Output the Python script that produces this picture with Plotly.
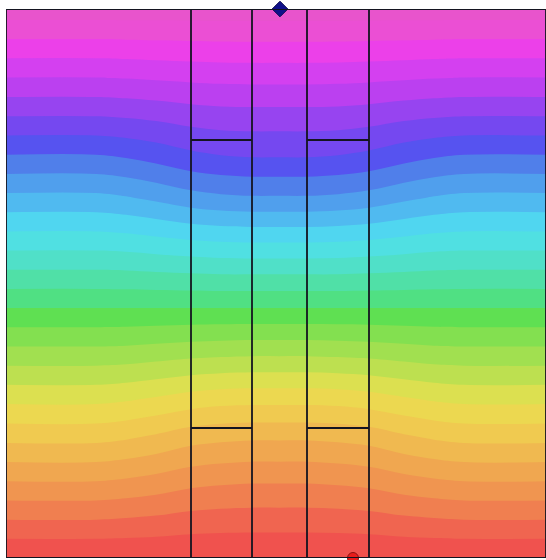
import plotly.graph_objects as go

# Grid node positions (model units, origin bottom-left)
x_nodes = [0, 90, 120, 150, 185, 215, 246, 273, 301, 332, 363, 398, 428, 458, 540]
y_nodes = [0, 40, 80, 120, 160, 200, 250, 280, 320, 360, 400, 440, 480, 520, 549]

z_rows = [
    [0.0] * 15,
    [7.3, 7.3, 7.0, 6.6, 5.9, 5.6, 5.5, 5.5, 5.5, 5.6, 5.9, 6.6, 7.0, 7.3, 7.3],
    [14.6, 14.6, 14.1, 13.3, 12.1, 11.6, 11.3, 11.3, 11.3, 11.6, 12.1, 13.3, 14.1, 14.6, 14.6],
    [21.9, 21.9, 21.3, 20.3, 18.8, 18.2, 17.9, 17.9, 17.9, 18.2, 18.8, 20.3, 21.3, 21.9, 21.9],
    [29.1, 29.1, 28.6, 27.8, 26.7, 26.1, 25.9, 25.9, 25.9, 26.1, 26.7, 27.8, 28.6, 29.1, 29.1],
    [36.4, 36.4, 36.2, 35.7, 35.1, 34.8, 34.6, 34.6, 34.6, 34.8, 35.1, 35.7, 36.2, 36.4, 36.4],
    [45.5] * 15,
    [51.0, 51.0, 51.1, 51.3, 51.5, 51.7, 51.7, 51.7, 51.7, 51.7, 51.5, 51.3, 51.1, 51.0, 51.0],
    [58.3, 58.3, 58.6, 59.2, 59.9, 60.3, 60.5, 60.5, 60.5, 60.3, 59.9, 59.2, 58.6, 58.3, 58.3],
    [65.6, 65.6, 66.2, 67.2, 68.6, 69.3, 69.6, 69.6, 69.6, 69.3, 68.6, 67.2, 66.2, 65.6, 65.6],
    [72.9, 72.9, 73.5, 74.5, 75.9, 76.6, 76.9, 76.9, 76.9, 76.6, 75.9, 74.5, 73.5, 72.9, 72.9],
    [80.2, 80.2, 80.5, 81.0, 81.8, 82.2, 82.3, 82.3, 82.3, 82.2, 81.8, 81.0, 80.5, 80.2, 80.2],
    [87.4, 87.4, 87.6, 87.9, 88.2, 88.4, 88.5, 88.5, 88.5, 88.4, 88.2, 87.9, 87.6, 87.4, 87.4],
    [94.7, 94.7, 94.8, 94.9, 95.0, 95.1, 95.1, 95.1, 95.1, 95.1, 95.0, 94.9, 94.8, 94.7, 94.7],
    [100.0] * 15,
]

# Colour scale stops
scale_pos = [0.0, 0.04, 0.07, 0.106, 0.142, 0.178, 0.215, 0.251, 0.293, 0.33, 0.36, 0.397,
             0.43, 0.457, 0.479, 0.515, 0.566, 0.612, 0.658, 0.703, 0.74, 0.77, 0.798, 0.82,
             0.85, 0.88, 0.916, 0.953, 0.985, 1.0]
scale_col = ["#f04c4c", "#f05a50", "#f07250", "#f08a50", "#f09e50", "#f0b050", "#f0c250",
             "#f0d250", "#e6e050", "#c4e050", "#ace050", "#90e050", "#70e050", "#54e054",
             "#50e080", "#50e0a4", "#50e0d4", "#50e0f0", "#50bcf0", "#509aec", "#5078ea",
             "#5650f0", "#6e48f0", "#8848f0", "#a042f0", "#c040f0", "#d840f0", "#f040e8",
             "#ea50d2", "#e854cc"]

# Geometry outlines
column_edges = [185, 246, 301, 363]
side_columns = [(185, 246), (301, 363)]
divider_levels = [130, 418]
domain_w, domain_h = 540, 549

# Point markers
source_pt = (274, 549)
sink_pt = (347, 0)

fig = go.Figure()
fig.add_trace(go.Contour(
    x=x_nodes, y=y_nodes, z=z_rows,
    colorscale=[[p, c] for p, c in zip(scale_pos, scale_col)],
    zmin=0, zmax=100,
    contours=dict(start=0, end=100, size=3.5, coloring="fill", showlines=False),
    line=dict(width=0),
    showscale=False,
    hoverinfo="skip",
))

line_style = dict(color="#141420", width=1.8)
shapes = [dict(type="rect", xref="x", yref="y", x0=0, x1=domain_w, y0=0, y1=domain_h,
               line=line_style)]
for xe in column_edges:
    shapes.append(dict(type="line", xref="x", yref="y", x0=xe, x1=xe, y0=0, y1=domain_h,
                       line=line_style))
for (a, b) in side_columns:
    for yl in divider_levels:
        shapes.append(dict(type="line", xref="x", yref="y", x0=a, x1=b, y0=yl, y1=yl,
                           line=line_style))

fig.add_trace(go.Scatter(x=[source_pt[0]], y=[source_pt[1]], mode="markers",
                         marker=dict(symbol="diamond", size=12, color="#10108a",
                                     line=dict(color="#0a0a50", width=1)),
                         cliponaxis=False, showlegend=False))
fig.add_trace(go.Scatter(x=[sink_pt[0]], y=[sink_pt[1]], mode="markers",
                         marker=dict(symbol="circle", size=11, color="#e81c1c",
                                     line=dict(color="#901010", width=1)),
                         cliponaxis=False, showlegend=False))

fig.update_layout(
    width=546, height=560,
    margin=dict(l=6, r=0, t=9, b=2),
    paper_bgcolor="white", plot_bgcolor="white",
    shapes=shapes,
    showlegend=False,
    xaxis=dict(range=[0, domain_w], visible=False, showgrid=False, zeroline=False),
    yaxis=dict(range=[0, domain_h], visible=False, showgrid=False, zeroline=False),
)

fig.write_html(
    "out.html",
    config={"displayModeBar": False},
    post_script="document.body.style.margin='0';document.body.style.padding='0';"
                "document.body.style.overflow='hidden';",
)
